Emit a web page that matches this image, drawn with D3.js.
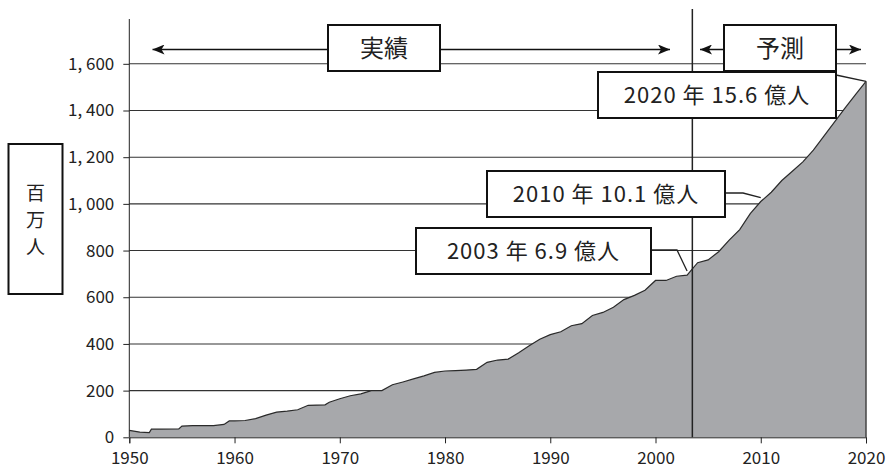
<!DOCTYPE html>
<html>
<head>
<meta charset="utf-8">
<script src="https://cdn.jsdelivr.net/npm/d3@7"></script>
<style>
  body { margin: 0; background: #fff; }
  svg { display: block; font-family: "Noto Sans CJK JP", "Noto Sans", sans-serif; }
</style>
</head>
<body>
<svg id="chart" width="888" height="472"></svg>
<script>
// 年と人数 (百万人) — グラフから読み取った値
const years = [1950, 1951, 1951.9, 1952.1, 1953, 1954.7, 1955, 1956, 1957, 1958, 1959, 1959.5,
  1960, 1961, 1962, 1963, 1964, 1965, 1966, 1967, 1968.6, 1969, 1970, 1971, 1972, 1973, 1974,
  1975, 1976, 1977, 1978, 1979, 1980, 1981, 1982, 1983, 1984, 1985, 1986, 1987, 1988, 1989,
  1990, 1991, 1992, 1993, 1994, 1995, 1996, 1997, 1998, 1999, 2000, 2001, 2002, 2003,
  2004, 2005, 2006, 2007, 2008, 2009, 2010, 2011, 2012, 2013, 2014, 2015, 2016, 2017,
  2018, 2019, 2020];
const values = [30, 22, 20, 35, 35, 36, 48, 50, 50, 50, 55, 70,
  70, 72, 80, 95, 108, 112, 118, 137, 139, 150, 165, 178, 186, 200, 200,
  225, 237, 250, 263, 278, 284, 286, 288, 291, 321, 331, 335, 362, 392, 420,
  440, 452, 478, 487, 522, 535, 557, 590, 608, 630, 672, 672, 690, 695,
  748, 760, 795, 845, 890, 958, 1010, 1050, 1100, 1140, 1180, 1230, 1290, 1350,
  1410, 1468, 1525];

const yTicks = [0, 200, 400, 600, 800, 1000, 1200, 1400, 1600];
const xTicks = [1950, 1960, 1970, 1980, 1990, 2000, 2010, 2020];

const splitYear = 2003.5; // 実績と予測の境目
const noteYears = [2003, 2010, 2020];
const noteValues = [695, 1010, 1525];
const noteTexts = ["2003 年 6.9 億人", "2010 年 10.1 億人", "2020 年 15.6 億人"];

const data = years.map((y, i) => ({ year: y, value: values[i] }));

const svg = d3.select("#chart");
const x = d3.scaleLinear().domain([1950, 2020]).range([129.3, 866]);
const y = d3.scaleLinear().domain([0, 1792]).range([437.3, 19]);

// 横の目盛線
svg.append("g")
  .selectAll("line")
  .data(yTicks.filter(d => d > 0))
  .join("line")
  .attr("x1", x(1950)).attr("x2", x(2020))
  .attr("y1", d => y(d)).attr("y2", d => y(d))
  .attr("stroke", "#333").attr("stroke-width", 1.1);

// 面グラフ
const area = d3.area().x(d => x(d.year)).y0(y(0)).y1(d => y(d.value));
svg.append("path")
  .datum(data)
  .attr("d", area)
  .attr("fill", "#a7a8ab");
const line = d3.line().x(d => x(d.year)).y(d => y(d.value));
svg.append("path")
  .datum(data)
  .attr("d", line)
  .attr("fill", "none")
  .attr("stroke", "#2a2a2a").attr("stroke-width", 1.2);
// 右端の縦線
svg.append("line")
  .attr("x1", x(2020)).attr("x2", x(2020))
  .attr("y1", y(values[values.length - 1])).attr("y2", y(0))
  .attr("stroke", "#444").attr("stroke-width", 1.5);

// Y軸
const yAxis = svg.append("g")
  .attr("transform", `translate(${x(1950)},0)`)
  .call(d3.axisLeft(y).tickValues(yTicks).tickSize(6).tickPadding(9)
    .tickFormat(d => d3.format(",")(d).replace(",", ", ")));
yAxis.select(".domain").remove();
svg.append("line")
  .attr("x1", x(1950)).attr("x2", x(1950))
  .attr("y1", y.range()[1]).attr("y2", y(0))
  .attr("stroke", "#222");

// X軸
const xAxis = svg.append("g")
  .attr("transform", `translate(0,${y(0)})`)
  .call(d3.axisBottom(x).tickValues(xTicks).tickSize(6).tickPadding(9).tickFormat(d3.format("d")));

[yAxis, xAxis].forEach(ax => {
  ax.selectAll("text").attr("font-size", 17).attr("fill", "#222")
    .attr("font-family", "'Noto Sans CJK JP', sans-serif");
  ax.selectAll("line").attr("stroke", "#222");
  ax.select(".domain").attr("stroke", "#222");
});

// 実績/予測の境目
svg.append("line")
  .attr("x1", x(splitYear)).attr("x2", x(splitYear))
  .attr("y1", 9).attr("y2", y(0))
  .attr("stroke", "#222").attr("stroke-width", 1.5);

// 矢印
const defs = svg.append("defs");
defs.append("marker")
  .attr("id", "head")
  .attr("viewBox", "0 0 12 10")
  .attr("refX", 12).attr("refY", 5)
  .attr("markerWidth", 12).attr("markerHeight", 10)
  .attr("markerUnits", "userSpaceOnUse")
  .attr("orient", "auto-start-reverse")
  .append("path")
  .attr("d", "M0,0 L12,5 L0,10 L3,5 Z")
  .attr("fill", "#111");

function arrow(x1, x2, yy) {
  svg.append("line")
    .attr("x1", x1).attr("x2", x2).attr("y1", yy).attr("y2", yy)
    .attr("stroke", "#111").attr("stroke-width", 1.5)
    .attr("marker-start", "url(#head)")
    .attr("marker-end", "url(#head)");
}
arrow(152.5, 670, 49.5);
arrow(700, 861, 49.5);

// 枠付きラベル
function box(x0, y0, w, h, label, size, spacing) {
  svg.append("rect")
    .attr("x", x0).attr("y", y0).attr("width", w).attr("height", h)
    .attr("fill", "#fff").attr("stroke", "#111").attr("stroke-width", 2);
  svg.append("text")
    .attr("x", x0 + w / 2).attr("y", y0 + h / 2)
    .attr("dy", "0.36em")
    .attr("text-anchor", "middle")
    .attr("font-size", size)
    .attr("letter-spacing", spacing || 0)
    .attr("fill", "#222")
    .text(label);
}
box(328, 25, 112, 46, "実績", 24);
box(724, 25, 112, 46, "予測", 24);

// 吹き出しの引き出し線
const noteBoxes = [
  { x0: 416, y0: 228, w: 235, knee: 677 },
  { x0: 487, y0: 171, w: 238, knee: 743 },
  { x0: 598, y0: 72, w: 238, knee: null }
];
noteBoxes.forEach((b, i) => {
  const ly = b.y0 + 22;
  const pts = b.knee
    ? [[b.x0 + b.w, ly], [b.knee, ly], [x(noteYears[i]), y(noteValues[i]) - 4]]
    : [[b.x0 + b.w, b.y0 + 3], [x(noteYears[i]), y(noteValues[i])]];
  svg.append("path")
    .attr("d", d3.line()(pts))
    .attr("fill", "none").attr("stroke", "#222").attr("stroke-width", 1.3);
});
noteBoxes.forEach((b, i) => box(b.x0, b.y0, b.w, 46, noteTexts[i], 22, 1));

// 単位 (縦書き)
svg.append("rect")
  .attr("x", 8.5).attr("y", 144).attr("width", 54).attr("height", 150)
  .attr("fill", "#fff").attr("stroke", "#111").attr("stroke-width", 2);
svg.append("g")
  .selectAll("text")
  .data(["百", "万", "人"])
  .join("text")
  .attr("x", 35.5)
  .attr("y", (d, i) => 193 + i * 27)
  .attr("dy", "0.36em")
  .attr("text-anchor", "middle")
  .attr("font-size", 19)
  .attr("fill", "#222")
  .text(d => d);
</script>
</body>
</html>
